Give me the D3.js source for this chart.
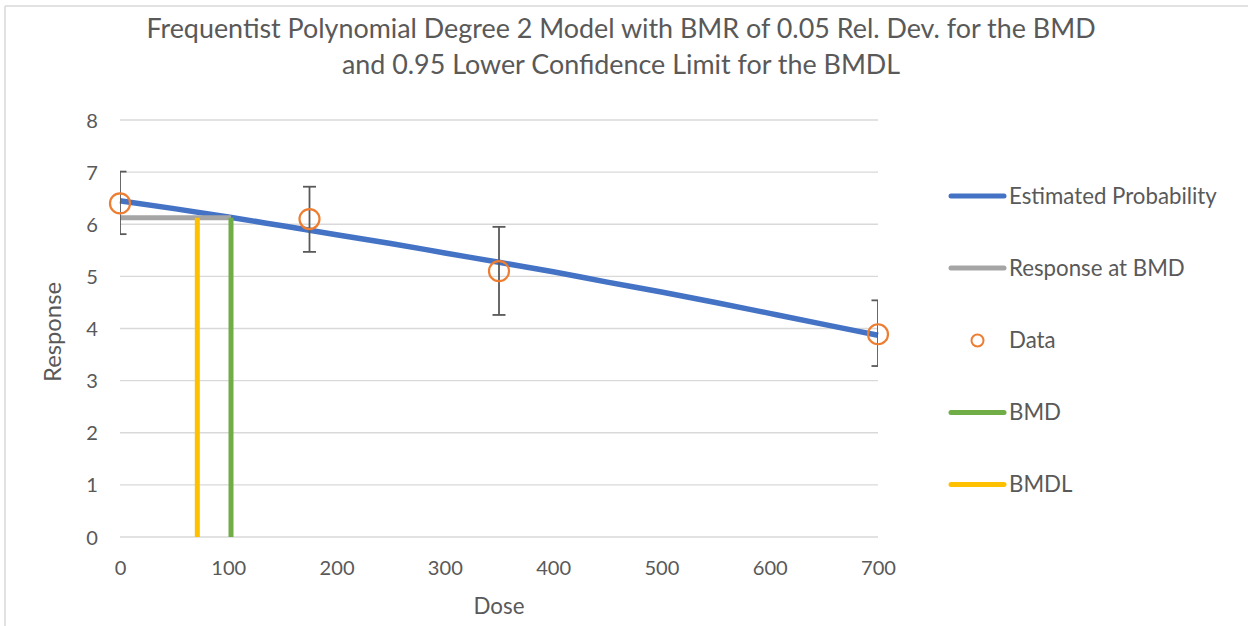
<!DOCTYPE html>
<html>
<head>
<meta charset="utf-8">
<script src="https://cdn.jsdelivr.net/npm/d3@7"></script>
<style>
  html, body { margin: 0; padding: 0; background: #fff; }
  svg { display: block; }
  text { font-family: Lato, "Open Sans", sans-serif; fill: #595959; }
</style>
</head>
<body>
<svg id="chart" width="1248" height="626"></svg>
<script>
// ---- data ----
const titleLines = [
  "Frequentist Polynomial Degree 2 Model with BMR of 0.05 Rel. Dev. for the BMD",
  "and 0.95 Lower Confidence Limit for the BMDL"
];
const xTicks = [0, 100, 200, 300, 400, 500, 600, 700];
const yTicks = [0, 1, 2, 3, 4, 5, 6, 7, 8];

const dataDose  = [0, 175, 350, 700];
const dataMean  = [6.40, 6.10, 5.10, 3.89];
const dataLower = [5.81, 5.47, 4.26, 3.28];
const dataUpper = [7.01, 6.72, 5.95, 4.54];

const curveDose = [0, 50, 100, 150, 200, 250, 300, 350, 400, 450, 500, 550, 600, 650, 700];
const curveResp = [6.45, 6.30, 6.14, 5.97, 5.80, 5.63, 5.45, 5.27, 5.09, 4.89, 4.70, 4.50, 4.29, 4.08, 3.87];

const bmdValue = 102.5;
const bmdlValue = 71.4;
const bmdResponse = 6.125;

const legendNames = ["Estimated Probability", "Response at BMD", "Data", "BMD", "BMDL"];
const colors = {
  est: "#4472C4", resp: "#A5A5A5", data: "#ED7D31", bmd: "#70AD47", bmdl: "#FFC000",
  grid: "#D9D9D9", err: "#595959"
};

// ---- layout ----
const svg = d3.select("#chart");
const plot = { left: 120, right: 878, top: 120, bottom: 537 };
const x = d3.scaleLinear().domain([0, 700]).range([plot.left, plot.right]);
const y = d3.scaleLinear().domain([0, 8]).range([plot.bottom, plot.top]);

function fitText(sel, targetWidth, base) {
  sel.style("font-size", base + "px");
  const w = sel.node().getComputedTextLength();
  const fs = base * targetWidth / w;
  sel.style("font-size", fs + "px");
  return fs;
}

// outer border (top & left visible in reference)
svg.append("line").attr("x1", 5).attr("x2", 1248).attr("y1", 6).attr("y2", 6)
  .attr("stroke", "#D9D9D9").attr("stroke-width", 1.5);
svg.append("line").attr("x1", 5).attr("x2", 5).attr("y1", 6).attr("y2", 626)
  .attr("stroke", "#D9D9D9").attr("stroke-width", 1.5);

// title
const t1 = svg.append("text").attr("x", 621).attr("y", 29).attr("dy", "0.35em")
  .attr("text-anchor", "middle").text(titleLines[0]);
const tfs = fitText(t1, 950, 24);
svg.append("text").attr("x", 621).attr("y", 65).attr("dy", "0.35em")
  .attr("text-anchor", "middle").style("font-size", tfs + "px").text(titleLines[1]);

// gridlines
svg.append("g").selectAll("line").data(yTicks).join("line")
  .attr("x1", plot.left).attr("x2", plot.right)
  .attr("y1", d => y(d)).attr("y2", d => y(d))
  .attr("stroke", colors.grid).attr("stroke-width", 1.3);

// tick label font size
const probe = svg.append("text").text("700");
const tickFs = fitText(probe, 35, 20);
probe.remove();

// x axis
const gx = svg.append("g").attr("transform", `translate(0,${plot.bottom})`)
  .call(d3.axisBottom(x).tickValues(xTicks).tickSize(0).tickPadding(0).tickFormat(d3.format("d")));
gx.select(".domain").remove();
gx.selectAll("text").attr("y", 31).attr("dy", "0.35em")
  .style("font-size", tickFs + "px").style("font-family", "Lato, 'Open Sans', sans-serif").attr("fill", "#595959");

// y axis
const gy = svg.append("g").attr("transform", `translate(${plot.left},0)`)
  .call(d3.axisLeft(y).tickValues(yTicks).tickSize(0).tickPadding(0).tickFormat(d3.format("d")));
gy.select(".domain").remove();
gy.selectAll("text").attr("x", -22).attr("dy", "0.35em")
  .style("font-size", tickFs + "px").style("font-family", "Lato, 'Open Sans', sans-serif").attr("fill", "#595959");

// axis titles
const xt = svg.append("text").attr("x", 499).attr("y", 606).attr("dy", "0.35em")
  .attr("text-anchor", "middle").text("Dose");
fitText(xt, 51, 21);
const yt = svg.append("text").attr("transform", "translate(53,332) rotate(-90)").attr("dy", "0.35em")
  .attr("text-anchor", "middle").text("Response");
fitText(yt, 100, 21);

// clip
svg.append("clipPath").attr("id", "plotclip").append("rect")
  .attr("x", plot.left).attr("y", plot.top - 20).attr("width", plot.right - plot.left).attr("height", plot.bottom - plot.top + 20);

const g = svg.append("g");

// estimated curve
const curve = curveDose.map((d, i) => [d, curveResp[i]]);
g.append("path").datum(curve)
  .attr("d", d3.line().x(d => x(d[0])).y(d => y(d[1])).curve(d3.curveMonotoneX))
  .attr("fill", "none").attr("stroke", colors.est).attr("stroke-width", 5.5);

// response at BMD
g.append("line").attr("x1", x(0)).attr("x2", x(bmdValue))
  .attr("y1", y(bmdResponse)).attr("y2", y(bmdResponse))
  .attr("stroke", colors.resp).attr("stroke-width", 5);

// error bars
const eb = g.append("g").attr("clip-path", "url(#plotclip)")
  .attr("stroke", colors.err).attr("stroke-width", 1.8);
dataDose.forEach((d, i) => {
  eb.append("line").attr("x1", x(d)).attr("x2", x(d)).attr("y1", y(dataLower[i])).attr("y2", y(dataUpper[i]));
  eb.append("line").attr("x1", x(d) - 6.5).attr("x2", x(d) + 6.5).attr("y1", y(dataLower[i])).attr("y2", y(dataLower[i]));
  eb.append("line").attr("x1", x(d) - 6.5).attr("x2", x(d) + 6.5).attr("y1", y(dataUpper[i])).attr("y2", y(dataUpper[i]));
});

// data circles
g.append("g").selectAll("circle").data(dataDose).join("circle")
  .attr("cx", d => x(d)).attr("cy", (d, i) => y(dataMean[i])).attr("r", 10)
  .attr("fill", "none").attr("stroke", colors.data).attr("stroke-width", 2.2);

// BMD & BMDL verticals
g.append("line").attr("x1", x(bmdValue)).attr("x2", x(bmdValue))
  .attr("y1", y(0)).attr("y2", y(bmdResponse))
  .attr("stroke", colors.bmd).attr("stroke-width", 5);
g.append("line").attr("x1", x(bmdlValue)).attr("x2", x(bmdlValue))
  .attr("y1", y(0)).attr("y2", y(bmdResponse))
  .attr("stroke", colors.bmdl).attr("stroke-width", 5);

// legend
const legendColors = [colors.est, colors.resp, colors.data, colors.bmd, colors.bmdl];
const legY = [196, 268, 340.5, 412.5, 484.5];
const lg = svg.append("g");
let legFs = null;
legendNames.forEach((name, i) => {
  if (i === 2) {
    lg.append("circle").attr("cx", 977.5).attr("cy", legY[i]).attr("r", 6)
      .attr("fill", "none").attr("stroke", legendColors[i]).attr("stroke-width", 2);
  } else {
    lg.append("line").attr("x1", 951).attr("x2", 1004).attr("y1", legY[i]).attr("y2", legY[i])
      .attr("stroke", legendColors[i]).attr("stroke-width", 5).attr("stroke-linecap", "round");
  }
  const t = lg.append("text").attr("x", 1009).attr("y", legY[i]).attr("dy", "0.35em").text(name);
  if (i === 0) legFs = fitText(t, 208, 20);
  else t.style("font-size", legFs + "px");
});
</script>
</body>
</html>
